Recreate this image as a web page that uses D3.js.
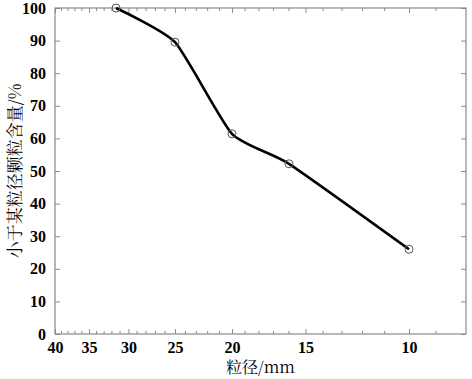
<!DOCTYPE html>
<html>
<head>
<meta charset="utf-8">
<script src="https://cdn.jsdelivr.net/npm/d3@7"></script>
<style>
  body { margin: 0; background: #fff; }
</style>
</head>
<body>
<svg id="chart" width="472" height="379"></svg>
<script>
// particle size (mm) vs cumulative passing (%)
const sizes = [31.5, 25, 20, 16, 10];
const passing = [100, 89.5, 61.4, 52.2, 26];
const xMajor = [40, 35, 30, 25, 20, 15, 10];
const xMinor = d3.range(9, 41); // every mm
const yTicks = [0, 10, 20, 30, 40, 50, 60, 70, 80, 90, 100];

const svg = d3.select('#chart');
const m = { left: 55, right: 6, top: 8, bottom: 45 };
const w = 472 - m.left - m.right;
const h = 379 - m.top - m.bottom;
const axisColor = '#8a8a8a';
const numFont = '"Liberation Serif", "Times New Roman", serif';
const cjkFont = '"Noto Serif CJK SC", "Noto Sans CJK SC", sans-serif';

const x = d3.scaleLog().domain([40, 8]).range([0, w]);
const y = d3.scaleLinear().domain([0, 100]).range([h, 0]);

const g = svg.append('g').attr('transform', `translate(${m.left},${m.top})`);

// frame
g.append('rect')
  .attr('width', w).attr('height', h)
  .attr('fill', 'none').attr('stroke', axisColor).attr('stroke-width', 1.2);

// minor ticks bottom/top (inward)
const minor = xMinor.filter(v => xMajor.indexOf(v) < 0);
g.selectAll('.mnb').data(minor).enter().append('line')
  .attr('x1', d => x(d)).attr('x2', d => x(d))
  .attr('y1', h).attr('y2', h - 3)
  .attr('stroke', axisColor);
g.selectAll('.mnt').data(minor).enter().append('line')
  .attr('x1', d => x(d)).attr('x2', d => x(d))
  .attr('y1', 0).attr('y2', 3)
  .attr('stroke', axisColor);

function styleAxis(sel) {
  sel.select('.domain').remove();
  sel.selectAll('.tick line').attr('stroke', axisColor);
  sel.selectAll('.tick text')
    .attr('font-family', numFont)
    .attr('font-weight', 'bold')
    .attr('font-size', 16)
    .attr('fill', '#000');
}

// x axis
const xAxis = d3.axisBottom(x).tickValues(xMajor).tickFormat(d3.format('d'))
  .tickSizeInner(-5).tickSizeOuter(0).tickPadding(8);
g.append('g').attr('transform', `translate(0,${h})`).call(xAxis).call(styleAxis);

const xTop = d3.axisTop(x).tickValues(xMajor).tickFormat('').tickSizeInner(-5).tickSizeOuter(0);
g.append('g').call(xTop).call(styleAxis);

// y axis
const yAxis = d3.axisLeft(y).tickValues(yTicks).tickSizeInner(-5).tickSizeOuter(0).tickPadding(9);
g.append('g').call(yAxis).call(styleAxis);

const yRight = d3.axisRight(y).tickValues(yTicks).tickFormat('').tickSizeInner(-5).tickSizeOuter(0);
g.append('g').attr('transform', `translate(${w},0)`).call(yRight).call(styleAxis);

// curve
const pts = sizes.map((s, i) => ({ s, p: passing[i] }));
const line = d3.line()
  .x(d => x(d.s)).y(d => y(d.p))
  .curve(d3.curveCardinal.tension(0.45));
g.append('path').datum(pts)
  .attr('d', line)
  .attr('fill', 'none').attr('stroke', '#000').attr('stroke-width', 2.6);

g.selectAll('.pt').data(pts).enter().append('circle')
  .attr('cx', d => x(d.s)).attr('cy', d => y(d.p))
  .attr('r', 4)
  .attr('fill', 'none').attr('stroke', '#555').attr('stroke-width', 1);

// labels
svg.append('text')
  .attr('x', m.left + w / 2).attr('y', 373)
  .attr('text-anchor', 'middle')
  .attr('font-family', cjkFont).attr('font-size', 16)
  .text('粒径/mm');

svg.append('text')
  .attr('transform', `translate(21,${m.top + h / 2}) rotate(-90)`)
  .attr('text-anchor', 'middle')
  .attr('font-family', cjkFont).attr('font-size', 17)
  .text('小于某粒径颗粒含量/%');
</script>
</body>
</html>
